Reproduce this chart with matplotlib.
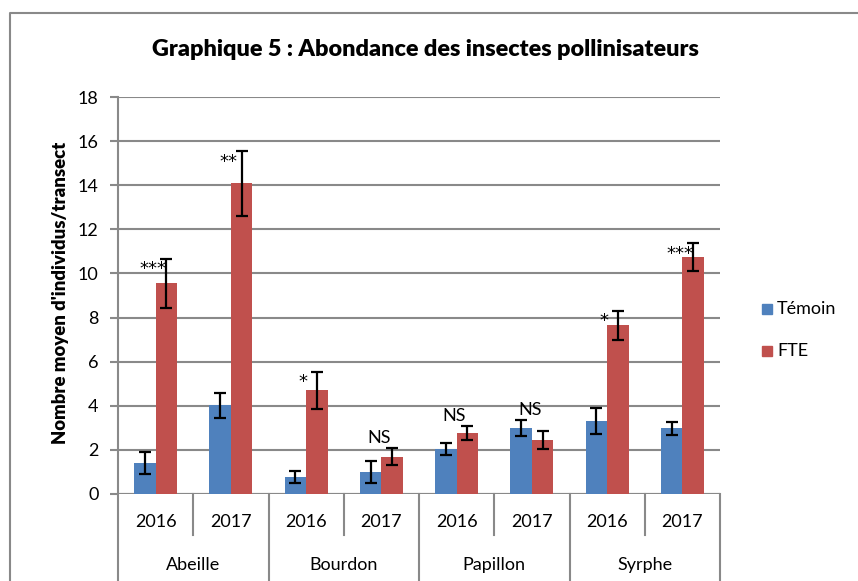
import matplotlib
matplotlib.use("Agg")
import matplotlib.pyplot as plt
from matplotlib.lines import Line2D
from matplotlib.patches import Rectangle
import numpy as np

plt.rcParams['font.family'] = ['Lato', 'DejaVu Sans']

# ---- data ----
groups = ["Abeille", "Bourdon", "Papillon", "Syrphe"]
years = ["2016", "2017"]
temoin = [1.42, 4.02, 0.76, 1.01, 2.02, 2.98, 3.31, 2.98]
temoin_err = [0.50, 0.58, 0.28, 0.50, 0.27, 0.36, 0.60, 0.30]
fte = [9.55, 14.08, 4.70, 1.69, 2.75, 2.45, 7.65, 10.74]
fte_err = [1.12, 1.46, 0.83, 0.38, 0.32, 0.41, 0.65, 0.62]
signif = ["***", "**", "*", "NS", "NS", "NS", "*", "***"]
series_names = ["Témoin", "FTE"]
yticks = [0, 2, 4, 6, 8, 10, 12, 14, 16, 18]

BLUE = "#4F81BD"
RED = "#C0504D"
GRID = "#898989"

W, H = 858, 581
fig = plt.figure(figsize=(W / 100, H / 100), dpi=100)

def fx(px):
    return px / W

def fy(py):
    return 1 - py / H

# chart border (left and top visible)
fig.add_artist(Line2D([fx(10), fx(10), fx(858)], [fy(581), fy(13), fy(13)],
                      color=GRID, lw=1.5, transform=fig.transFigure))

L, R, T, B = 118, 720, 97, 494
ax = fig.add_axes([fx(L), fy(B), fx(R - L), (B - T) / H])
n = len(temoin)
ax.set_xlim(0, n)
ax.set_ylim(0, 18)

for s in ["top", "right", "bottom", "left"]:
    ax.spines[s].set_visible(False)

ax.set_yticks(yticks)
ax.yaxis.grid(True, color=GRID, lw=1.5)
ax.set_axisbelow(True)
ax.tick_params(axis="y", length=6, width=1.5, color=GRID, labelsize=13, pad=8)
ax.set_xticks([])

bw = 1 / 3.5
x = np.arange(n) + 0.5
ebkw = dict(ecolor="black", elinewidth=1.6, capsize=4.3, capthick=1.6)
ax.bar(x - bw / 2, temoin, bw, color=BLUE, yerr=temoin_err, error_kw=ebkw,
       label=series_names[0], zorder=2)
ax.bar(x + bw / 2, fte, bw, color=RED, yerr=fte_err, error_kw=ebkw,
       label=series_names[1], zorder=2)

# significance labels
for i, lab in enumerate(signif):
    top = max(temoin[i] + temoin_err[i], fte[i] + fte_err[i])
    if lab == "NS":
        ax.annotate(lab, xy=(x[i], top), xytext=(-1.5, 4), textcoords="offset points",
                    ha="center", va="baseline", fontsize=13)
    else:
        ax.annotate(lab, xy=(x[i], top), xytext=(-2, -11), textcoords="offset points",
                    ha="center", va="baseline", fontsize=13,
                    family=["DejaVu Sans"])

# left axis line, extended down through category labels
fig.add_artist(Line2D([fx(L), fx(L)], [fy(T), fy(581)], color=GRID, lw=1.5,
                      transform=fig.transFigure))
# bottom axis line
ax.axhline(0, color=GRID, lw=1.5, zorder=1)

# multi-level category axis
xt = ax.get_xaxis_transform()
def ay(py):
    return (B - py) / (B - T)

for i in range(n):
    ax.text(x[i], ay(522), years[i % 2], transform=xt, ha="center", va="center",
            fontsize=13, clip_on=False)
for g, name in enumerate(groups):
    ax.text(2 * g + 1, ay(565), name, transform=xt, ha="center", va="center",
            fontsize=13, clip_on=False)
for k in range(1, n + 1):
    if k % 2 == 1:
        ax.add_line(Line2D([k, k], [ay(B), ay(535)], transform=xt, color=GRID,
                           lw=1.5, clip_on=False))
    else:
        ax.add_line(Line2D([k, k], [ay(B), ay(581)], transform=xt, color=GRID,
                           lw=1.5, clip_on=False))

fig.text(fx(61), fy(293), "Nombre moyen d'individus/transect", fontsize=13.3,
         fontweight="heavy", rotation=90, ha="center", va="center")

fig.text(fx(425), fy(50), "Graphique 5 : Abondance des insectes pollinisateurs",
         ha="center", va="center", fontsize=16.8, fontweight="heavy")

# legend
for name, col, py in [(series_names[0], BLUE, 309), (series_names[1], RED, 351)]:
    fig.add_artist(Rectangle((fx(762), fy(py + 5)), 10 / W, 10 / H, color=col,
                             transform=fig.transFigure))
    fig.text(fx(777), fy(py), name, ha="left", va="center", fontsize=13)

fig.savefig("out.png", dpi=100)
